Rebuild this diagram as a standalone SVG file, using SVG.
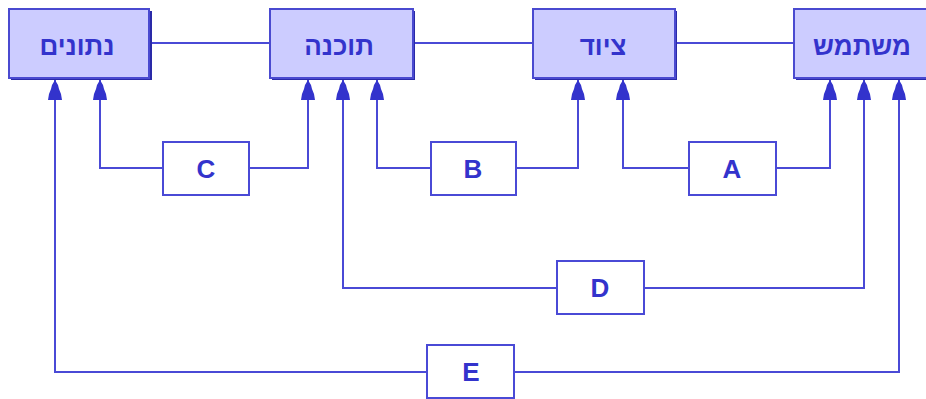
<svg xmlns="http://www.w3.org/2000/svg" width="926" height="399" viewBox="0 0 926 399">
<style>
.node rect.shadow{fill:#2a2aa8}
.node rect.body{fill:#ccccff;stroke:#4a4ad0;stroke-width:2}
.node text{font-family:"Liberation Sans","DejaVu Sans",sans-serif;font-weight:bold;font-size:26px;fill:#3333cc;text-anchor:middle}
.lbl rect{fill:#ffffff;stroke:#4a4ad6;stroke-width:2}
.lbl text{font-family:"Liberation Sans",Arial,sans-serif;font-weight:bold;font-size:26px;fill:#3333cc;text-anchor:middle}
.conn path{fill:none;stroke:#4a4ad6;stroke-width:2}
.conn path.arr{marker-end:url(#ah)}
</style>
<defs>
<marker id="ah" markerUnits="userSpaceOnUse" markerWidth="22" markerHeight="16" viewBox="0 -8 21 16" refX="20" refY="0" orient="auto">
<polygon points="20,0 15,-3 11,-4 6,-6 0,-7 0,7 6,6 11,4 15,3" fill="#3333cc"/>
</marker>
</defs>
<g id="connectors" class="conn">
<path d="M149,43 H270"/>
<path d="M413,43 H533"/>
<path d="M675,43 H794"/>
<path class="arr" d="M163,168 H100 V80"/>
<path class="arr" d="M249,168 H308 V80"/>
<path class="arr" d="M431,168 H377 V80"/>
<path class="arr" d="M516,168 H578 V80"/>
<path class="arr" d="M689,168 H623 V80"/>
<path class="arr" d="M776,168 H830 V80"/>
<path class="arr" d="M557,288 H343 V80"/>
<path class="arr" d="M644,288 H864 V80"/>
<path class="arr" d="M427,372 H55 V80"/>
<path class="arr" d="M514,372 H899 V80"/>
</g>
<g id="n-netunim" class="node">
<rect class="shadow" x="11" y="11" width="141" height="69"/>
<rect class="body" x="9" y="9" width="140" height="69"/>
<text x="77" y="55">נתונים</text>
</g>
<g id="n-tochna" class="node">
<rect class="shadow" x="272" y="11" width="143" height="69"/>
<rect class="body" x="270" y="9" width="143" height="69"/>
<text x="339" y="55">תוכנה</text>
</g>
<g id="n-tziyud" class="node">
<rect class="shadow" x="535" y="11" width="142" height="69"/>
<rect class="body" x="533" y="9" width="142" height="69"/>
<text x="603" y="55">ציוד</text>
</g>
<g id="n-mishtamesh" class="node">
<rect class="shadow" x="796" y="11" width="142" height="69"/>
<rect class="body" x="794" y="9" width="142" height="69"/>
<text x="862" y="55">משתמש</text>
</g>
<g id="l-C" class="lbl"><rect x="163" y="142" width="86" height="53"/><text x="206" y="178">C</text></g>
<g id="l-B" class="lbl"><rect x="431" y="142" width="85" height="53"/><text x="473" y="178">B</text></g>
<g id="l-A" class="lbl"><rect x="689" y="142" width="87" height="53"/><text x="732" y="178">A</text></g>
<g id="l-D" class="lbl"><rect x="557" y="261" width="87" height="53"/><text x="600" y="297">D</text></g>
<g id="l-E" class="lbl"><rect x="427" y="345" width="87" height="53"/><text x="471" y="381">E</text></g>
</svg>
